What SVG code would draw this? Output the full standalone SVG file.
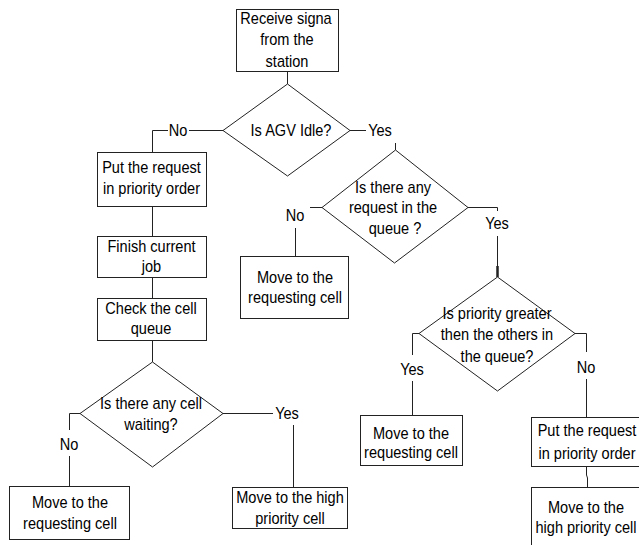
<svg xmlns="http://www.w3.org/2000/svg" width="639" height="545" viewBox="0 0 639 545">
<style>
.box{fill:#fff;stroke:#222;stroke-width:1}
.dia{fill:#fff;stroke:#222;stroke-width:1}
.ln{fill:none;stroke:#222;stroke-width:1}
.thick{fill:none;stroke:#222;stroke-width:2.5}
text{font-family:"Liberation Sans",Arial,sans-serif;font-size:16px;fill:#000;text-anchor:middle}
</style>
<rect width="639" height="545" fill="#fff"/>
<g id="connectors">
<line class="ln" x1="287.5" y1="71" x2="287.5" y2="84"/>
<line class="ln" x1="223" y1="130.5" x2="189" y2="130.5"/>
<polyline class="ln" points="168,130.5 152.5,130.5 152.5,152"/>
<line class="ln" x1="350" y1="130.5" x2="366" y2="130.5"/>
<line class="ln" x1="395.5" y1="143" x2="395.5" y2="150"/>
<line class="ln" x1="152.5" y1="206" x2="152.5" y2="236"/>
<line class="ln" x1="152.5" y1="277" x2="152.5" y2="298"/>
<line class="ln" x1="152.5" y1="340" x2="152.5" y2="362"/>
<line class="ln" x1="322" y1="207.5" x2="310" y2="207.5"/>
<line class="ln" x1="295.5" y1="228" x2="295.5" y2="256"/>
<polyline class="ln" points="468,207.5 497.5,207.5 497.5,211"/>
<line class="ln" x1="497.5" y1="236" x2="497.5" y2="267"/>
<line class="thick" x1="497.5" y1="266" x2="497.5" y2="277"/>
<polyline class="ln" points="419,333.5 412.5,333.5 412.5,355"/>
<line class="ln" x1="412.5" y1="381" x2="412.5" y2="415"/>
<polyline class="ln" points="575,333.5 586.5,333.5 586.5,352"/>
<line class="ln" x1="586.5" y1="379" x2="586.5" y2="417"/>
<polyline class="ln" points="586.5,466 586.5,475 587.5,478 587.5,487"/>
<polyline class="ln" points="80,413.5 69.5,413.5 69.5,430"/>
<line class="ln" x1="69.5" y1="456" x2="69.5" y2="486"/>
<line class="ln" x1="223" y1="413.5" x2="273" y2="413.5"/>
<line class="ln" x1="293.5" y1="425" x2="293.5" y2="487"/>
<text transform="translate(178,136) scale(0.91,1)">No</text>
<text transform="translate(380,136) scale(0.91,1)">Yes</text>
<text transform="translate(295,221) scale(0.91,1)">No</text>
<text transform="translate(497,229) scale(0.91,1)">Yes</text>
<text transform="translate(412,375) scale(0.91,1)">Yes</text>
<text transform="translate(586,373) scale(0.91,1)">No</text>
<text transform="translate(69,450) scale(0.91,1)">No</text>
<text transform="translate(287,419) scale(0.91,1)">Yes</text>
</g>
<g id="n1">
<rect class="box" x="236.5" y="9.5" width="102" height="62"/>
<text transform="translate(286,24) scale(0.91,1)">Receive signa</text>
<text transform="translate(287,45) scale(0.91,1)">from the</text>
<text transform="translate(287,67) scale(0.91,1)">station</text>
</g>
<g id="d1">
<polygon class="dia" points="287.5,84 350,130.5 287.5,176 223,130.5"/>
<text transform="translate(291,136) scale(0.91,1)">Is AGV Idle?</text>
</g>
<g id="n2">
<rect class="box" x="97.5" y="152.5" width="109" height="54"/>
<text transform="translate(151.5,173) scale(0.91,1)">Put the request</text>
<text transform="translate(151.5,194) scale(0.91,1)">in priority order</text>
</g>
<g id="n3">
<rect class="box" x="97.5" y="236.5" width="109" height="41"/>
<text transform="translate(151.5,252) scale(0.91,1)">Finish current</text>
<text transform="translate(151.5,272) scale(0.91,1)">job</text>
</g>
<g id="n4">
<rect class="box" x="97.5" y="298.5" width="109" height="42"/>
<text transform="translate(151,314) scale(0.91,1)">Check the cell</text>
<text transform="translate(151,334) scale(0.91,1)">queue</text>
</g>
<g id="d3">
<polygon class="dia" points="152.5,362 223,413.5 152.5,467 80,413.5"/>
<text transform="translate(151,409) scale(0.91,1)">Is there any cell</text>
<text transform="translate(151,430) scale(0.91,1)">waiting?</text>
</g>
<g id="n5">
<rect class="box" x="9.5" y="486.5" width="120" height="53"/>
<text transform="translate(70,508) scale(0.91,1)">Move to the</text>
<text transform="translate(70,529) scale(0.91,1)">requesting cell</text>
</g>
<g id="n6">
<rect class="box" x="232.5" y="487.5" width="115" height="41"/>
<text transform="translate(290,503) scale(0.91,1)">Move to the high</text>
<text transform="translate(290,524) scale(0.91,1)">priority cell</text>
</g>
<g id="d2">
<polygon class="dia" points="395.5,150 468,207.5 394.5,263 322,207.5"/>
<text transform="translate(393,193) scale(0.91,1)">Is there any</text>
<text transform="translate(393,213) scale(0.91,1)">request in the</text>
<text transform="translate(395,234) scale(0.91,1)">queue ?</text>
</g>
<g id="n7">
<rect class="box" x="240.5" y="256.5" width="108" height="62"/>
<text transform="translate(295,283) scale(0.91,1)">Move to the</text>
<text transform="translate(295,303) scale(0.91,1)">requesting cell</text>
</g>
<g id="d4">
<polygon class="dia" points="497.5,277 575,333.5 497.5,391 419,333.5"/>
<text transform="translate(497,319) scale(0.91,1)">Is priority greater</text>
<text transform="translate(497,340) scale(0.91,1)">then the others in</text>
<text transform="translate(497,362) scale(0.91,1)">the queue?</text>
</g>
<g id="n8">
<rect class="box" x="360.5" y="415.5" width="102" height="50"/>
<text transform="translate(411,439) scale(0.91,1)">Move to the</text>
<text transform="translate(411,458) scale(0.91,1)">requesting cell</text>
</g>
<g id="n9">
<rect class="box" x="531.5" y="417.5" width="110" height="49"/>
<text transform="translate(587,436) scale(0.91,1)">Put the request</text>
<text transform="translate(587,459) scale(0.91,1)">in priority order</text>
</g>
<g id="n10">
<rect class="box" x="531.5" y="487.5" width="110" height="63"/>
<text transform="translate(586,513) scale(0.91,1)">Move to the</text>
<text transform="translate(586,533) scale(0.91,1)">high priority cell</text>
</g>
</svg>
